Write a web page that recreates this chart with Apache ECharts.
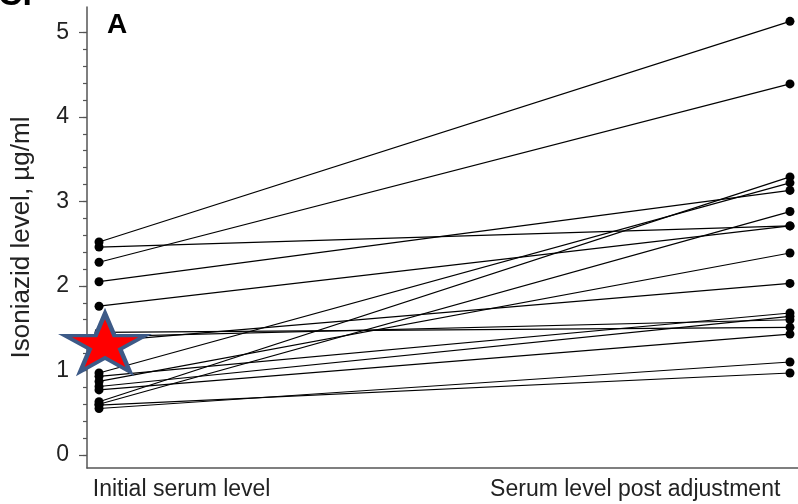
<!DOCTYPE html>
<html>
<head>
<meta charset="utf-8">
<script src="https://cdn.jsdelivr.net/npm/echarts@6/dist/echarts.min.js"></script>
<style>
  html, body { margin: 0; padding: 0; background: #fff; }
  #chart { width: 798px; height: 504px; }
</style>
</head>
<body>
<div id="chart"></div>
<script>
// paired values: one line per patient, initial -> post adjustment
const initialLevels = [2.52, 2.46, 2.28, 2.05, 1.76, 1.45, 1.40, 1.34, 0.97, 0.93, 0.87, 0.81, 0.77, 0.63, 0.60, 0.59, 0.55];
const postLevels    = [5.13, 2.71, 4.39, 3.13, 2.71, 1.51, 1.60, 2.03, 3.22, 1.68, 2.39, 1.64, 1.43, 3.29, 2.88, 0.97, 1.10];
const xLabels = ['Initial serum level', 'Serum level post adjustment'];
const xLabelAt = [-0.009, 0.986];
const yTicks = [0, 1, 2, 3, 4, 5];
const yMinorTicks = [0, 0.2, 0.4, 0.6, 0.8, 1, 1.2, 1.4, 1.6, 1.8, 2, 2.2, 2.4, 2.6, 2.8, 3, 3.2, 3.4, 3.6, 3.8, 4, 4.2, 4.4, 4.6, 4.8, 5];
const starPoint = [0, 1.33];

const font = 'Liberation Sans, Arial, sans-serif';
const chart = echarts.init(document.getElementById('chart'));

const pairSeries = initialLevels.map((v, i) => ({
  type: 'line',
  data: [[0, v], [1, postLevels[i]]],
  symbol: 'circle',
  symbolSize: 9,
  itemStyle: { color: '#000' },
  lineStyle: { color: '#000', width: 1.2 },
  silent: true,
  z: 2
}));

chart.setOption({
  animation: false,
  grid: { left: 87, right: 0, top: 7, bottom: 36 },
  xAxis: {
    type: 'value',
    min: -0.0174,
    max: 1.0116,
    splitLine: { show: false },
    axisLine: { onZero: false, lineStyle: { color: '#555', width: 1.5 } },
    axisTick: { show: false },
    axisLabel: {
      customValues: xLabelAt,
      formatter: v => (v < 0.5 ? xLabels[0] : xLabels[1]),
      alignMinLabel: 'left',
      alignMaxLabel: 'right',
      color: '#222',
      fontSize: 23,
      fontFamily: font,
      margin: 10
    }
  },
  yAxis: [
    {
      type: 'value',
      min: -0.154,
      max: 5.3,
      name: 'Isoniazid level, µg/ml',
      nameLocation: 'middle',
      nameGap: 52,
      nameTextStyle: { color: '#222', fontSize: 26, fontFamily: font },
      splitLine: { show: false },
      axisLine: { show: true, onZero: false, lineStyle: { color: '#555', width: 1.5 } },
      axisTick: { customValues: yTicks, length: 8, lineStyle: { color: '#555', width: 1.2 } },
      axisLabel: { customValues: yTicks, color: '#222', fontSize: 23, fontFamily: font, margin: 18 }
    },
    {
      type: 'value',
      min: -0.154,
      max: 5.3,
      position: 'left',
      splitLine: { show: false },
      axisLine: { show: false, onZero: false },
      axisTick: { customValues: yMinorTicks, length: 4, lineStyle: { color: '#555', width: 1.2 } },
      axisLabel: { show: false }
    }
  ],
  graphic: [
    { type: 'text', left: -2, top: -21, style: { text: 'C.', font: 'bold 34px ' + font, fill: '#000' } },
    { type: 'text', left: 107, top: 11, style: { text: 'A', font: 'bold 28px ' + font, fill: '#000' } }
  ],
  series: pairSeries.concat([{
    type: 'scatter',
    data: [starPoint],
    symbol: 'path://M50,0 L61.8,36.2 L100,36.2 L69.1,58.5 L80.9,95.1 L50,72.6 L19.1,95.1 L30.9,58.5 L0,36.2 L38.2,36.2 Z',
    symbolSize: [80, 58],
    symbolKeepAspect: false,
    symbolOffset: [6, 0],
    itemStyle: { color: '#ff0000', opacity: 1, borderColor: '#3d5a87', borderWidth: 4 },
    silent: true,
    z: 5
  }])
});
</script>
</body>
</html>
